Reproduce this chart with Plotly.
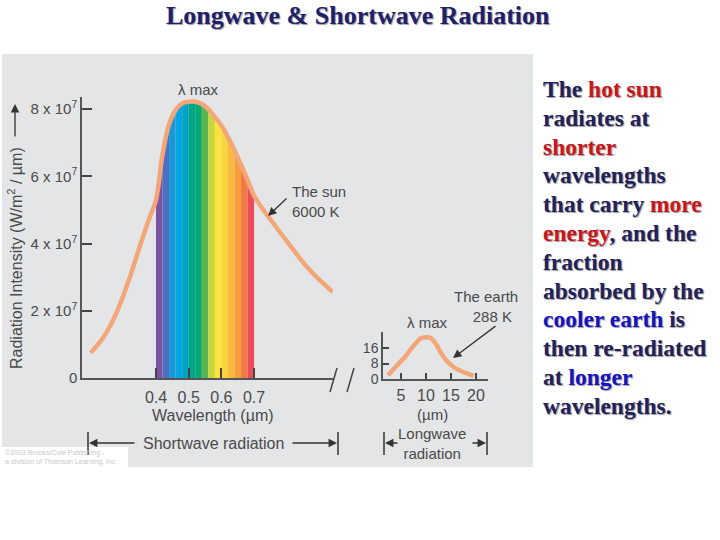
import plotly.graph_objects as go

# sun curve, wavelength in micrometres, intensity in units of 1e7 W/m2/um
sun_wl = [0.20, 0.24, 0.28, 0.32, 0.36, 0.38, 0.40, 0.42, 0.44, 0.46, 0.48, 0.50,
          0.52, 0.54, 0.56, 0.58, 0.60, 0.62, 0.64, 0.66, 0.68, 0.70, 0.72, 0.74,
          0.80, 0.87, 0.94]
sun_int = [0.75, 1.22, 1.96, 3.0, 4.2, 4.76, 5.3, 6.65, 7.55, 7.97, 8.17, 8.22,
           8.22, 8.15, 8.0, 7.76, 7.52, 7.17, 6.78, 6.35, 5.89, 5.42, 5.12, 4.85,
           4.07, 3.21, 2.56]

# visible band colours, one per 0.02 um step from 0.40 to 0.70
band_colors = ['#7a54a1', '#4f70c0', '#1a98da', '#05a4e2', '#00a3c4', '#00a688',
               '#00a872', '#5ab652', '#c6d83e', '#fbe23c', '#fcd43f', '#f9b93e',
               '#f69d3d', '#f27a47', '#ea4c5c']

# earth curve, wavelength in micrometres, intensity in W/m2/um
earth_wl = [2.4, 4, 6, 7, 8, 9, 10, 11, 12, 13, 14, 15.5, 17, 19.5]
earth_int = [2.0, 6.5, 12, 15.5, 18.6, 21, 21.6, 21.1, 18, 13.5, 9.8, 6.2, 4.1, 1.6]

sun_ticks = [0, 2, 4, 6, 8]
sun_ticktext = ['0', '2 x 10<sup>7</sup>', '4 x 10<sup>7</sup>', '6 x 10<sup>7</sup>', '8 x 10<sup>7</sup>']
wl_ticks = [0.4, 0.5, 0.6, 0.7]
earth_xticks = [5, 10, 15, 20]
earth_yticks = [0, 8, 16]

side_lines = [
    'The <span style="color:#c8161d">hot sun</span>',
    'radiates at',
    '<span style="color:#c8161d">shorter</span>',
    'wavelengths',
    'that carry <span style="color:#c8161d">more</span>',
    '<span style="color:#c8161d">energy</span>, and the',
    'fraction',
    'absorbed by the',
    '<span style="color:#1414c4">cooler earth</span> is',
    'then re-radiated',
    'at <span style="color:#1414c4">longer</span>',
    'wavelengths.',
]

W, H = 720, 548
ORANGE = '#f3a677'
TXT = '#4a4a4a'
SANS = 'Liberation Sans, Arial, sans-serif'
SERIF = 'Liberation Serif, Times New Roman, serif'


def px(x):
    return x / W


def py(y):
    # layout positions measured on a 540 px tall picture
    return 1 - y / 540


fig = go.Figure()

# rainbow under the visible part of the sun curve
vis = [i for i, w in enumerate(sun_wl) if 0.4 - 1e-9 <= w <= 0.7 + 1e-9]
for k in range(len(vis) - 1):
    i, j = vis[k], vis[k + 1]
    fig.add_trace(go.Scatter(
        x=[sun_wl[i], sun_wl[j]], y=[sun_int[i], sun_int[j]],
        mode='none', fill='tozeroy', fillcolor=band_colors[k],
        showlegend=False, hoverinfo='skip'
    ))

fig.add_trace(go.Scatter(
    x=sun_wl, y=sun_int, mode='lines', line=dict(color=ORANGE, width=4.5, shape='spline'),
    showlegend=False
))

fig.add_trace(go.Scatter(
    x=earth_wl, y=earth_int, mode='lines', line=dict(color=ORANGE, width=4.5, shape='spline'),
    xaxis='x2', yaxis='y2', showlegend=False
))

axis_common = dict(showgrid=False, zeroline=False, showline=True, linecolor='#555',
                   linewidth=1.5, ticks='inside', tickcolor='#444', tickwidth=1.5)

fig.update_layout(
    width=W, height=H,
    margin=dict(l=0, r=0, t=0, b=0),
    paper_bgcolor='white',
    plot_bgcolor='rgba(0,0,0,0)',
    xaxis=dict(domain=[px(82), px(333)], range=[0.1737, 0.9413], anchor='y',
               tickvals=wl_ticks, ticklen=10, ticklabelstandoff=4,
               tickfont=dict(family=SANS, size=16, color=TXT), **axis_common),
    yaxis=dict(domain=[py(378), py(97)], range=[0, 8.36], anchor='x',
               tickvals=sun_ticks, ticktext=sun_ticktext, ticklen=10,
               tickfont=dict(family=SANS, size=15, color=TXT), **axis_common),
    xaxis2=dict(domain=[px(383), px(488)], range=[1.4, 22.4], anchor='y2',
                tickvals=earth_xticks, ticklen=6, ticklabelstandoff=1,
                tickfont=dict(family=SANS, size=16, color=TXT), **axis_common),
    yaxis2=dict(domain=[py(379), py(332)], range=[0, 24.26], anchor='x2',
                tickvals=earth_yticks, ticklen=6,
                tickfont=dict(family=SANS, size=14, color=TXT), **axis_common),
)

shapes = [
    # grey panel
    dict(type='rect', xref='paper', yref='paper', x0=px(2), x1=px(533), y0=py(467), y1=py(54),
         fillcolor='#e4e5e7', line=dict(width=0), layer='below'),
    # copyright box
    dict(type='rect', xref='paper', yref='paper', x0=px(0), x1=px(128), y0=py(467), y1=py(447),
         fillcolor='white', line=dict(width=0), layer='below'),
    # axis break marks
    dict(type='line', xref='paper', yref='paper', x0=px(330), y0=py(392), x1=px(337), y1=py(368),
         line=dict(color='#444', width=1.5)),
    dict(type='line', xref='paper', yref='paper', x0=px(347), y0=py(392), x1=px(354), y1=py(368),
         line=dict(color='#444', width=1.5)),
]
# dimension end bars
for xb in [88, 338, 384, 487]:
    shapes.append(dict(type='line', xref='paper', yref='paper', x0=px(xb), x1=px(xb),
                       y0=py(455), y1=py(432), line=dict(color='#333', width=1.5)))
fig.update_layout(shapes=shapes)

ann = []


def label(x, y, text, size=15, color=TXT, align='center', xanchor='center', family=SANS, **kw):
    ann.append(dict(xref='paper', yref='paper', x=px(x), y=py(y), text=text, showarrow=False,
                    font=dict(family=family, size=size, color=color), align=align,
                    xanchor=xanchor, yanchor='middle', **kw))


def arrow(xt, yt, xs, ys, head=2, size=1.3):
    ann.append(dict(xref='paper', yref='paper', x=px(xt), y=py(yt), ax=xs - xt, ay=ys - yt,
                    text='', showarrow=True, arrowhead=head, arrowsize=size, arrowwidth=1.3,
                    arrowcolor='#333'))


label(198, 90, 'λ max')
label(290, 202, 'The sun<br>6000 K', align='left', xanchor='left')
arrow(268, 216, 288, 197)
label(213, 415, 'Wavelength (µm)', size=16)
label(213, 443, 'Shortwave radiation', size=16)
arrow(89, 443, 136, 443)
arrow(337, 443, 291, 443)

label(15, 258, 'Radiation Intensity (W/m<sup>2</sup> / µm)', size=16, textangle=-90)
arrow(15, 104, 15, 138)

label(427, 322, 'λ max')
label(486, 306, 'The earth<br>   288 K', align='center')
arrow(453, 358, 497, 325)
label(432, 414, '(µm)')
label(432, 443, 'Longwave<br>radiation')
arrow(385, 443, 399, 443)
arrow(486, 443, 471, 443)

label(3, 457, '©2003 Brooks/Cole Publishing -<br>a division of Thomson Learning, Inc',
      size=7, color='#c8c8c8', align='left', xanchor='left')

# title
ann.append(dict(xref='paper', yref='paper', x=px(358), y=py(15), text='<b>Longwave &amp; Shortwave Radiation</b>',
                showarrow=False, xanchor='center', yanchor='middle',
                font=dict(family=SERIF, size=26, color='#1f1f6e', shadow='1px 1px 1px #9a9a9a')))

# side text, one annotation per line
for n, line in enumerate(side_lines):
    ann.append(dict(xref='paper', yref='paper', x=px(541), y=py(89 + n * 28.8), text='<b>' + line + '</b>',
                    showarrow=False, xanchor='left', yanchor='middle', align='left',
                    font=dict(family=SERIF, size=23.5, color='#22225a', shadow='1px 1px 1px #9a9a9a')))

fig.update_layout(annotations=ann)

fig.write_html("out.html", config={'displayModeBar': False},
               post_script="document.body.style.margin='0';")
